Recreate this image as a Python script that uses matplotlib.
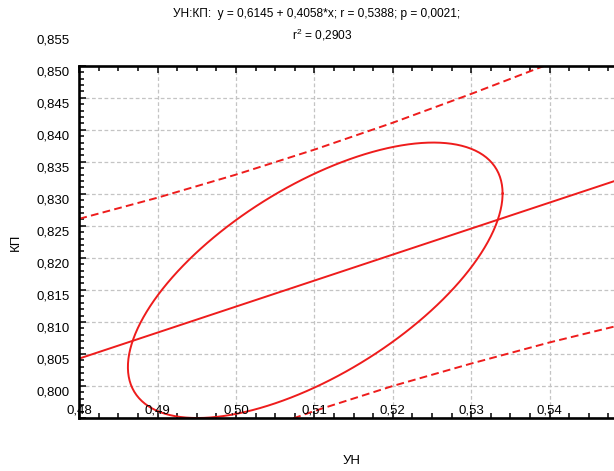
import numpy as np
import matplotlib.pyplot as plt
from matplotlib import transforms
from matplotlib.ticker import MultipleLocator

plt.rcParams['font.family'] = ['Liberation Sans', 'DejaVu Sans']
plt.rcParams['mathtext.default'] = 'regular'

# Regression from the title: y = a + b*x
intercept = 0.6145
slope = 0.4058

# Prediction band
band_x = [0.48, 0.49, 0.50, 0.51, 0.52, 0.53, 0.54, 0.55]
band_upper = [0.8311, 0.8344, 0.8380, 0.8419, 0.8461, 0.8506, 0.8553, 0.8604]
band_lower = [0.7874, 0.7923, 0.7968, 0.8011, 0.8050, 0.8085, 0.8118, 0.8148]

# Ellipse: centre, half width, half height, tilt (correlation)
ell_cx, ell_cy = 0.5101, 0.8215
ell_hw, ell_hh = 0.0239, 0.0215
ell_rho = 0.63

# Tick labels as printed on the chart
x_ticks = [0.48, 0.49, 0.50, 0.51, 0.52, 0.53, 0.54, 0.55]
x_labels = ['0,48', '0,49', '0,50', '0,51', '0,52', '0,53', '0,54', '0,55']
y_ticks = [0.800, 0.805, 0.810, 0.815, 0.820, 0.825, 0.830, 0.835, 0.840, 0.845, 0.850, 0.855]
y_labels = ['0,800', '0,805', '0,810', '0,815', '0,820', '0,825', '0,830', '0,835',
            '0,840', '0,845', '0,850', '0,855']

red = '#ee1c1c'
fs = 9.5
title_fs = 8.6

fig = plt.figure(figsize=(6.14, 4.71), dpi=100)
W, H = 614, 471
left_px, right_px, top_px, bottom_px = 79.3, 628, 65.7, 418
ax = fig.add_axes([left_px / W, (H - bottom_px) / H,
                   (right_px - left_px) / W, (bottom_px - top_px) / H])

ax.set_xlim(0.48, 0.55)
ax.set_ylim(0.800, 0.855)

# regression line
xs = np.array([0.48, 0.55])
ax.plot(xs, intercept + slope * xs, color=red, lw=1.4)

# prediction bands
ax.plot(band_x, band_upper, color=red, lw=1.4, dashes=(4, 2.2))
ax.plot(band_x, band_lower, color=red, lw=1.4, dashes=(4, 2.2))

# ellipse
t = np.linspace(0, 2 * np.pi, 300)
ex = ell_cx + ell_hw * np.cos(t)
ey = ell_cy + ell_hh * (ell_rho * np.cos(t) + np.sqrt(1 - ell_rho ** 2) * np.sin(t))
ax.plot(ex, ey, color=red, lw=1.4)

# grid and frame
ax.set_xticks(np.arange(0.48, 0.5501, 0.01))
ax.set_yticks(np.arange(0.800, 0.8551, 0.005))
ax.xaxis.set_minor_locator(MultipleLocator(0.0025))
ax.yaxis.set_minor_locator(MultipleLocator(0.001))
ax.grid(True, which='major', color='#c4c4c4', linestyle=(0, (3, 2)), lw=0.9)
ax.set_axisbelow(True)
for s in ax.spines.values():
    s.set_linewidth(1.9)
ax.tick_params(which='both', direction='in', top=True, right=True,
               labelleft=False, labelbottom=False, width=1.1)
ax.tick_params(which='major', length=5)
ax.tick_params(which='minor', length=3.5)

# y labels sit shifted against the gridlines, as in the original export
ytrans = transforms.offset_copy(ax.get_yaxis_transform(), fig=fig, x=-9.3, y=-6.5, units='dots')
for v, lab in zip(y_ticks, y_labels):
    ax.text(0, v + 0.005, lab, transform=ytrans, ha='right', va='center',
            fontsize=fs, clip_on=False)

# x labels drawn inside the frame
xtrans = transforms.offset_copy(ax.get_xaxis_transform(), fig=fig, y=7.3, units='dots')
for v, lab in zip(x_ticks, x_labels):
    ax.text(v, 0, lab, transform=xtrans, ha='center', va='center',
            fontsize=fs, clip_on=False)

# titles
fig.text(317 / W, 1 - 14.5 / H, 'УН:КП:  y = 0,6145 + 0,4058*x; r = 0,5388; p = 0,0021;',
         ha='center', va='center', fontsize=title_fs)
fig.text(322 / W, 1 - 35 / H, 'r$^2$ = 0,2903', ha='center', va='center', fontsize=title_fs)
fig.text(352 / W, 1 - 461 / H, 'УН', ha='center', va='center', fontsize=fs)
fig.text(16 / W, 1 - 242 / H, 'КП', ha='center', va='center', fontsize=fs, rotation=90)

plt.savefig('out.png', dpi=100)
